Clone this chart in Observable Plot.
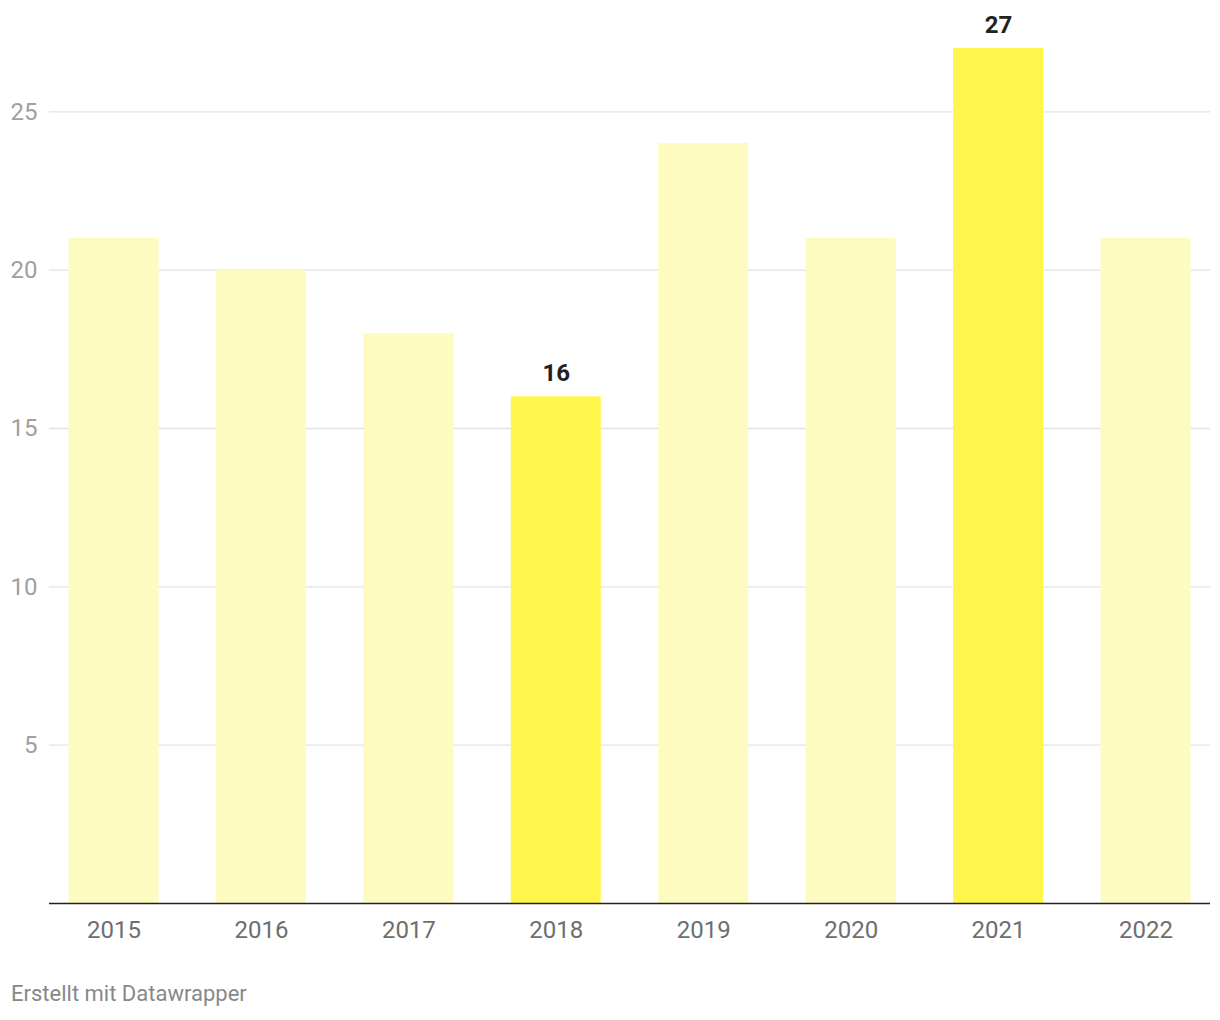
<!DOCTYPE html>
<html>
<head>
<meta charset="utf-8">
<script src="https://cdn.jsdelivr.net/npm/d3@7"></script>
<script src="https://cdn.jsdelivr.net/npm/@observablehq/plot@0.6"></script>
<style>
  html, body { margin: 0; padding: 0; background: #fff; }
  body { width: 1220px; font-family: Roboto, "Noto Sans", sans-serif; }
  #footer { font-family: Roboto, sans-serif; font-size: 22px; color: #888; margin: 31px 0 0 11px; }
</style>
</head>
<body>
<div id="chart"></div>
<div id="footer">Erstellt mit Datawrapper</div>
<script>
const years = ["2015", "2016", "2017", "2018", "2019", "2020", "2021", "2022"];
const values = [21, 20, 18, 16, 24, 21, 27, 21];
const highlighted = ["2018", "2021"];
const yTicks = [5, 10, 15, 20, 25];

const data = years.map((y, i) => ({year: y, value: values[i], hi: highlighted.includes(y)}));

const chart = Plot.plot({
  width: 1220,
  height: 950,
  marginTop: 48,
  marginBottom: 47,
  marginLeft: 49,
  marginRight: 10,
  style: {fontFamily: "Roboto, sans-serif", fontSize: "24px", background: "#fff"},
  x: {domain: years, paddingInner: 0.3895, paddingOuter: 0.1323, round: false, label: null},
  y: {domain: [0, 27], label: null},
  marks: [
    Plot.ruleY(yTicks, {stroke: "#e3e3e3", strokeWidth: 1.3}),
    Plot.barY(data, {x: "year", y: "value", fill: d => d.hi ? "#fff64c" : "#fefbc0"}),
    Plot.ruleY([0], {stroke: "#222", strokeWidth: 1.6}),
    Plot.axisY({ticks: yTicks, tickSize: 0, tickPadding: 12, fill: "#a0a0a0", fontSize: 24, label: null}),
    Plot.axisX({tickSize: 0, tickPadding: 17, fill: "#6e6e6e", fontSize: 24, label: null}),
    Plot.text(data.filter(d => d.hi), {x: "year", y: "value", text: d => String(d.value), dy: -16, lineAnchor: "bottom", fontWeight: "bold", fill: "#222", fontSize: 24})
  ]
});
document.getElementById("chart").appendChild(chart);
</script>
</body>
</html>
